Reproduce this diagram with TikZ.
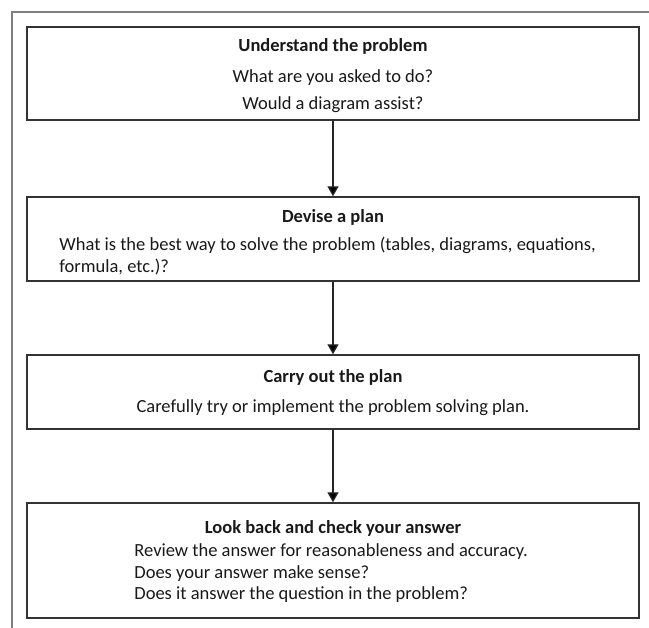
\documentclass[tikz,border=0pt]{standalone}
\usepackage{fontspec}
\setmainfont{Carlito}
\usetikzlibrary{positioning,arrows.meta}

\begin{document}
\begin{tikzpicture}[x=1pt, y=-1pt, >={Triangle[width=11pt,length=10pt]}, thick,
    stage box/.style={draw=black!80, line width=1.3pt, minimum width=612pt, inner sep=0pt},
    title/.style={font=\fontsize{18.5}{22}\selectfont\bfseries, text=black!90, inner sep=0pt},
    body/.style={font=\fontsize{18.5}{22}\selectfont, text=black!90, inner sep=0pt}]

  \useasboundingbox (0,0) rectangle (649,628);

  % Outer frame (only top and left edges visible)
  \draw[black!50, line width=1.2pt] (12,628) -- (12,12) -- (649,12);

  % Stages (arranged top-to-bottom)
  \node[stage box, minimum height=93pt] (understand) at (333,73.5) {};
  \node[stage box, minimum height=84pt] (devise) at (333,239) {};
  \node[stage box, minimum height=74pt] (carry) at (333,392) {};
  \node[stage box, minimum height=115pt] (lookback) at (333,560.5) {};

  % Stage 1
  \node[title] (t1) at (333,46) {Understand the problem};
  \node[body] (b1a) at (333,78) {What are you asked to do?};
  \node[body] (b1b) at (333,105) {Would a diagram assist?};

  % Stage 2
  \node[title] (t2) at (333,217) {Devise a plan};
  \node[body, anchor=west] (b2a) at (59,245) {What is the best way to solve the problem (tables, diagrams, equations,};
  \node[body, anchor=west] (b2b) at (59,267) {formula, etc.)?};

  % Stage 3
  \node[title] (t3) at (333,377) {Carry out the plan};
  \node[body] (b3a) at (333,408) {Carefully try or implement the problem solving plan.};

  % Stage 4
  \node[title] (t4) at (333,528) {Look back and check your answer};
  \node[body, anchor=west] (b4a) at (134,552) {Review the answer for reasonableness and accuracy.};
  \node[body, anchor=west] (b4b) at (134,574) {Does your answer make sense?};
  \node[body, anchor=west] (b4c) at (134,595) {Does it answer the question in the problem?};

  % Connectors
  \path[->, draw=black!85, line width=1.3pt]
    (understand) edge (devise)
    (devise) edge (carry)
    (carry) edge (lookback);
\end{tikzpicture}
\end{document}
